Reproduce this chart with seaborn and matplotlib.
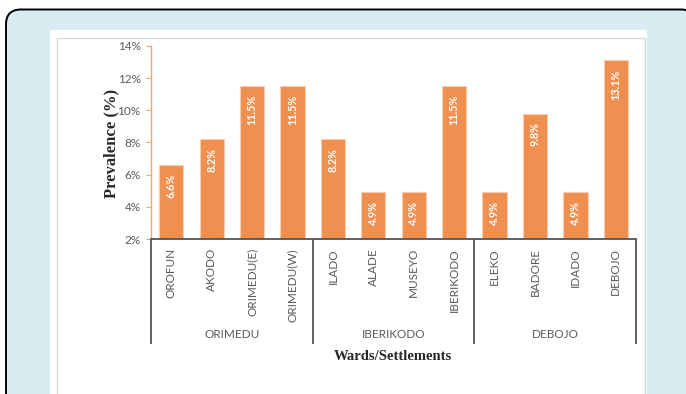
import matplotlib
matplotlib.use("Agg")
import matplotlib.pyplot as plt
from matplotlib.patches import FancyBboxPatch, Rectangle
from matplotlib.ticker import FuncFormatter
import matplotlib.transforms as mtransforms
import seaborn as sns
import pandas as pd

# Prevalence by settlement, grouped by ward
wards = ["ORIMEDU", "IBERIKODO", "DEBOJO"]
settlements = ["OROFUN", "AKODO", "ORIMEDU(E)", "ORIMEDU(W)",
               "ILADO", "ALADE", "MUSEYO", "IBERIKODO",
               "ELEKO", "BADORE", "IDADO", "DEBOJO"]
settlement_ward = ["ORIMEDU"] * 4 + ["IBERIKODO"] * 4 + ["DEBOJO"] * 4
prevalence = [6.6, 8.2, 11.5, 11.5, 8.2, 4.9, 4.9, 11.5, 4.9, 9.8, 4.9, 13.1]
y_ticks = [2, 4, 6, 8, 10, 12, 14]

df = pd.DataFrame({"settlement": settlements, "ward": settlement_ward,
                   "prevalence": prevalence})

sns.set_theme(style="white")
plt.rcParams["font.family"] = ["Lato", "DejaVu Sans"]

BAR = "#EF8F50"
AXIS_ORANGE = "#F3A56E"
GREY_TXT = "#595959"
DARK_LINE = "#555555"

fig = plt.figure(figsize=(6.86, 3.94), dpi=100)
fig.patch.set_facecolor("white")

# page frame: light blue rounded card, white panel, thin grey chart border
inch = fig.dpi_scale_trans
card = FancyBboxPatch((0.06, -0.5), 6.9, 4.345,
                      boxstyle="round,pad=0,rounding_size=0.15",
                      facecolor="#D8ECF1", edgecolor="black", linewidth=1.4,
                      transform=inch, zorder=0)
panel = Rectangle((0.50, -0.5), 5.97, 4.14, facecolor="white",
                  edgecolor="none", transform=inch, zorder=1)
chart_border = Rectangle((0.57, -0.5), 5.88, 4.06, facecolor="none",
                         edgecolor="#D9D9D9", linewidth=1.0,
                         transform=inch, zorder=2)
for p in (card, panel, chart_border):
    fig.patches.append(p)

ax = fig.add_axes([151 / 686, 1 - 239 / 394, (636 - 151) / 686, (239 - 46) / 394])
ax.set_facecolor("none")
ax.set_zorder(3)

sns.barplot(data=df, x="settlement", y="prevalence", color=BAR, width=0.6,
            edgecolor="#F9CDAE", linewidth=0.8, saturation=1, ax=ax)

ax.set_xlim(-0.5, len(settlements) - 0.5)
ax.set_ylim(y_ticks[0], y_ticks[-1])
ax.set_yticks(y_ticks)
ax.yaxis.set_major_formatter(FuncFormatter(lambda v, _: f"{v:.0f}%"))
ax.tick_params(axis="y", which="major", length=3.5, width=0.8,
               color=AXIS_ORANGE, labelsize=8.5, labelcolor=GREY_TXT, pad=4,
               left=True)
ax.tick_params(axis="x", length=0, labelsize=8.5, labelcolor=GREY_TXT,
               pad=6.5, rotation=90)

for side in ("top", "right"):
    ax.spines[side].set_visible(False)
ax.spines["left"].set_color(AXIS_ORANGE)
ax.spines["left"].set_linewidth(1.0)
ax.spines["bottom"].set_color(DARK_LINE)
ax.spines["bottom"].set_linewidth(1.3)

# value labels inside the top of each bar
for i, v in enumerate(prevalence):
    ax.annotate(f"{v:.1f}%", xy=(i, v), xytext=(0, -6.5),
                textcoords="offset points", rotation=90, ha="center",
                va="top", color="white", fontsize=7.8, fontweight="bold")

# ward group separators and names beneath the settlement labels
blend = mtransforms.blended_transform_factory(ax.transData, ax.transAxes)
n_per = [settlement_ward.count(w) for w in wards]
edges = [-0.5]
for n in n_per:
    edges.append(edges[-1] + n)
for e in edges:
    ax.plot([e, e], [0, -0.545], transform=blend, color=DARK_LINE,
            linewidth=1.3, clip_on=False, solid_capstyle="butt")
for w, a, b in zip(wards, edges[:-1], edges[1:]):
    ax.text((a + b) / 2, -0.497, w, transform=blend, ha="center",
            va="center", fontsize=8.5, color=GREY_TXT)

ax.set_xlabel("")
ax.set_ylabel("")
fig.text(393 / 686, 1 - 357 / 394, "Wards/Settlements", ha="center",
         va="center", fontsize=10.5, fontweight="bold",
         family="Liberation Serif", color="#262626")
fig.text(111 / 686, 1 - 143 / 394, "Prevalence (%)", ha="center",
         va="center", rotation=90, fontsize=12, fontweight="bold",
         family="Liberation Serif", color="#262626")

fig.savefig("out.png", dpi=100)
